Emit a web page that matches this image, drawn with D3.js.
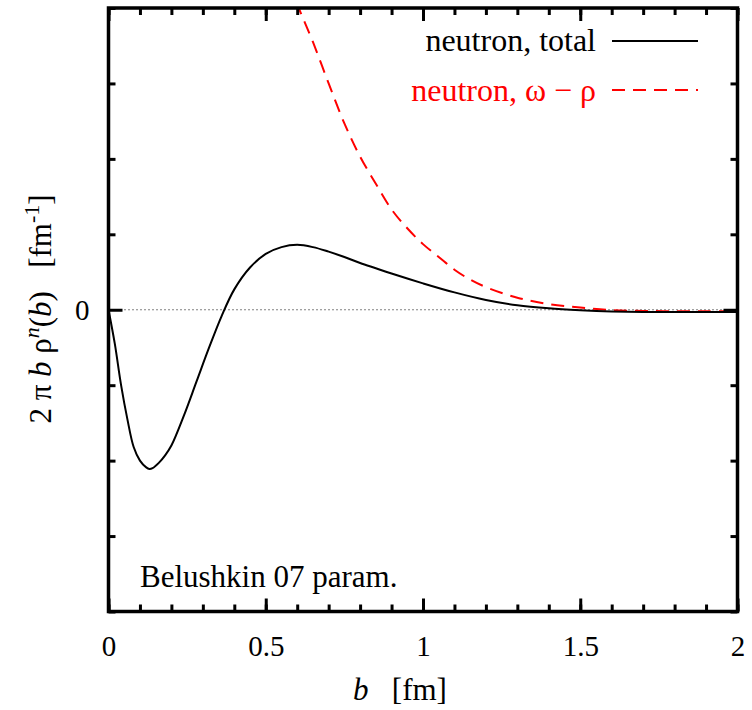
<!DOCTYPE html>
<html>
<head>
<meta charset="utf-8">
<script src="https://cdn.jsdelivr.net/npm/d3@7"></script>
<style>
  body { margin: 0; background: #fff; }
  svg { display: block; }
</style>
</head>
<body>
<svg id="chart" width="752" height="710" font-family="Liberation Serif"></svg>
<script>
// Datos
var bTotal = [0, 0.02, 0.04, 0.06, 0.08, 0.10, 0.12, 0.13, 0.14, 0.16, 0.18, 0.20, 0.24, 0.28, 0.32, 0.36, 0.40, 0.45, 0.50, 0.55, 0.60, 0.65, 0.70, 0.75, 0.80, 0.85, 0.90, 1.00, 1.10, 1.20, 1.30, 1.40, 1.50, 1.60, 1.70, 1.80, 1.90, 2.00];
var total = [0, -0.45, -1.0, -1.45, -1.82, -2.0, -2.09, -2.11, -2.10, -2.03, -1.93, -1.80, -1.40, -0.95, -0.50, -0.08, 0.27, 0.56, 0.74, 0.83, 0.86, 0.83, 0.77, 0.70, 0.62, 0.55, 0.48, 0.35, 0.23, 0.13, 0.06, 0.02, -0.005, -0.022, -0.03, -0.03, -0.03, -0.03];

var bOmegaRho = [0.55, 0.60, 0.65, 0.70, 0.75, 0.80, 0.85, 0.90, 0.95, 1.00, 1.05, 1.10, 1.15, 1.20, 1.30, 1.40, 1.50, 1.60, 1.70, 1.80, 1.90, 2.00];
var omegaRho = [4.6, 4.05, 3.55, 3.0, 2.47, 2.03, 1.67, 1.33, 1.08, 0.87, 0.70, 0.53, 0.40, 0.30, 0.16, 0.075, 0.03, -0.005, -0.015, -0.02, -0.02, -0.02];

var xMajorTicks = [0, 0.5, 1, 1.5, 2];
var xTickLabels = ["0", "0.5", "1", "1.5", "2"];
var xMinorTicks = d3.range(0, 2.001, 0.1);
var yMinorTicks = [-4, -3, -2, -1, 1, 2, 3, 4];
var yMajorTicks = [0];

// Margenes y escalas
var margin = { left: 108.5, right: 737.5, top: 8, bottom: 611.5 };
var x = d3.scaleLinear().domain([0, 2]).range([margin.left, margin.right]);
var y = d3.scaleLinear().domain([-4, 4]).range([margin.bottom, margin.top]);

var svg = d3.select("#chart");

svg.append("defs").append("clipPath").attr("id", "plot")
  .append("rect")
  .attr("x", margin.left).attr("y", margin.top)
  .attr("width", margin.right - margin.left).attr("height", margin.bottom - margin.top);

// Linea de cero punteada
svg.append("line")
  .attr("x1", x(0)).attr("x2", x(2))
  .attr("y1", y(0)).attr("y2", y(0))
  .attr("stroke", "#000")
  .attr("stroke-width", 1)
  .attr("stroke-dasharray", "1,3");

// Curvas
var line = d3.line()
  .x(function (d) { return x(d[0]); })
  .y(function (d) { return y(d[1]); })
  .curve(d3.curveCatmullRom);

svg.append("path")
  .datum(d3.zip(bOmegaRho, omegaRho))
  .attr("clip-path", "url(#plot)")
  .attr("fill", "none")
  .attr("stroke", "#ff0000")
  .attr("stroke-width", 2)
  .attr("stroke-dasharray", "13,8")
  .attr("d", line);

svg.append("path")
  .datum(d3.zip(bTotal, total))
  .attr("clip-path", "url(#plot)")
  .attr("fill", "none")
  .attr("stroke", "#000")
  .attr("stroke-width", 2)
  .attr("d", line);

// Marcas menores hacia adentro en los cuatro lados
svg.append("g").attr("transform", "translate(0," + margin.bottom + ")")
  .call(d3.axisBottom(x).tickValues(xMinorTicks).tickSizeInner(-7).tickSizeOuter(0).tickFormat(""));
svg.append("g").attr("transform", "translate(0," + margin.top + ")")
  .call(d3.axisTop(x).tickValues(xMinorTicks).tickSizeInner(-7).tickSizeOuter(0).tickFormat(""));
svg.append("g").attr("transform", "translate(" + margin.left + ",0)")
  .call(d3.axisLeft(y).tickValues(yMinorTicks).tickSizeInner(-7).tickSizeOuter(0).tickFormat(""));
svg.append("g").attr("transform", "translate(" + margin.right + ",0)")
  .call(d3.axisRight(y).tickValues(yMinorTicks).tickSizeInner(-7).tickSizeOuter(0).tickFormat(""));

// Marcas mayores con etiquetas
svg.append("g").attr("transform", "translate(0," + margin.bottom + ")")
  .call(d3.axisBottom(x).tickValues(xMajorTicks).tickSizeInner(-13).tickSizeOuter(0).tickPadding(24)
    .tickFormat(function (d, i) { return xTickLabels[i]; }));
svg.append("g").attr("transform", "translate(0," + margin.top + ")")
  .call(d3.axisTop(x).tickValues(xMajorTicks).tickSizeInner(-13).tickSizeOuter(0).tickFormat(""));
svg.append("g").attr("transform", "translate(" + margin.left + ",0)")
  .call(d3.axisLeft(y).tickValues(yMajorTicks).tickSizeInner(-14).tickSizeOuter(0).tickPadding(19).tickFormat(d3.format("d")));
svg.append("g").attr("transform", "translate(" + margin.right + ",0)")
  .call(d3.axisRight(y).tickValues(yMajorTicks).tickSizeInner(-14).tickSizeOuter(0).tickFormat(""));

svg.selectAll(".domain").remove();
svg.selectAll("g").attr("font-family", "Liberation Serif");
svg.selectAll(".tick line").attr("stroke", "#000").attr("stroke-width", 3);
svg.selectAll(".tick text")
  .attr("fill", "#000")
  .attr("font-size", 29);

// Marco
svg.append("rect")
  .attr("x", margin.left).attr("y", margin.top)
  .attr("width", margin.right - margin.left).attr("height", margin.bottom - margin.top)
  .attr("fill", "none")
  .attr("stroke", "#000")
  .attr("stroke-width", 3.5);

// Titulo eje X
var xt = svg.append("text")
  .attr("x", 400).attr("y", 700)
  .attr("text-anchor", "middle")
  .attr("font-size", 31);
xt.append("tspan").attr("font-style", "italic").text("b");
xt.append("tspan").attr("xml:space", "preserve").text("   [fm]");

// Titulo eje Y
var yt = svg.append("text")
  .attr("transform", "translate(51,309) rotate(-90)")
  .attr("text-anchor", "middle")
  .attr("font-size", 31);
yt.append("tspan").text("2 \u03c0 ");
yt.append("tspan").attr("font-style", "italic").text("b");
yt.append("tspan").text(" \u03c1");
yt.append("tspan").attr("font-style", "italic").attr("font-size", 22).attr("dy", -12).text("n");
yt.append("tspan").attr("dy", 12).text("(");
yt.append("tspan").attr("font-style", "italic").text("b");
yt.append("tspan").attr("xml:space", "preserve").text(")   [fm");
yt.append("tspan").attr("font-size", 22).attr("dy", -12).text("-1");
yt.append("tspan").attr("dy", 12).text("]");

// Leyenda
svg.append("text")
  .attr("x", 596).attr("y", 51)
  .attr("text-anchor", "end")
  .attr("font-size", 32)
  .text("neutron, total");
svg.append("line")
  .attr("x1", 612).attr("x2", 698).attr("y1", 41).attr("y2", 41)
  .attr("stroke", "#000").attr("stroke-width", 2);

svg.append("text")
  .attr("x", 596).attr("y", 101)
  .attr("text-anchor", "end")
  .attr("fill", "#ff0000")
  .attr("font-size", 32)
  .text("neutron, \u03c9 \u2212 \u03c1");
svg.append("line")
  .attr("x1", 612).attr("x2", 698).attr("y1", 90).attr("y2", 90)
  .attr("stroke", "#ff0000").attr("stroke-width", 2)
  .attr("stroke-dasharray", "13,8");

// Anotacion
svg.append("text")
  .attr("x", 140).attr("y", 587)
  .attr("font-size", 31)
  .text("Belushkin 07 param.");
</script>
</body>
</html>
